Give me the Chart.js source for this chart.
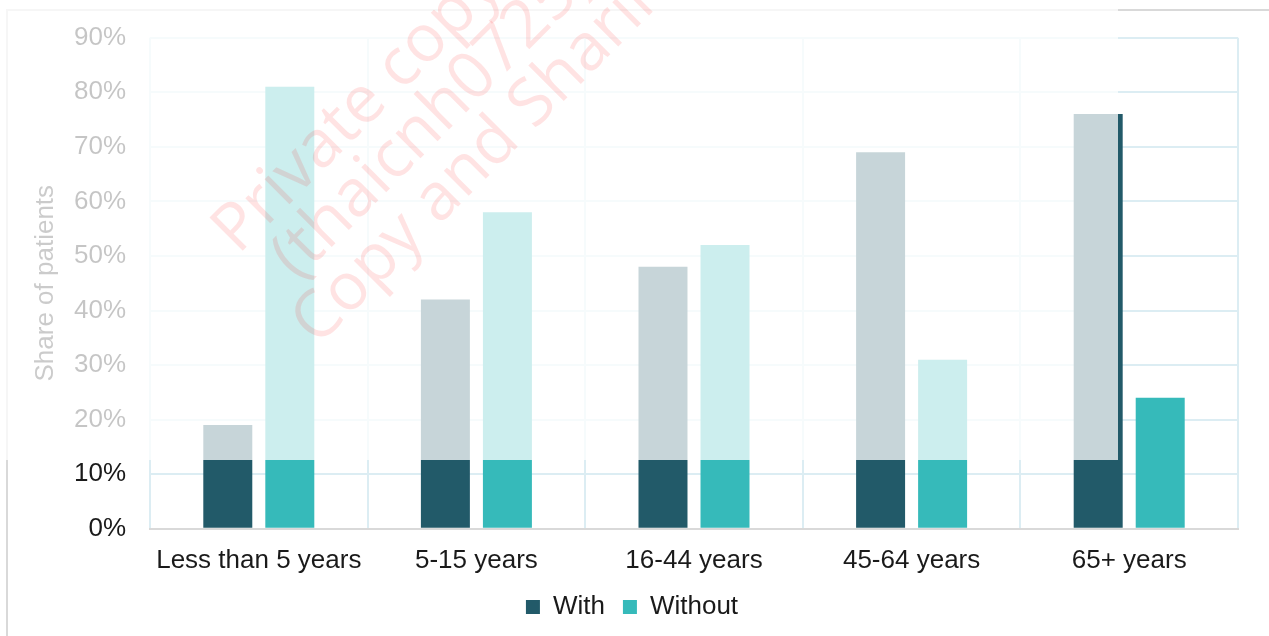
<!DOCTYPE html>
<html>
<head>
<meta charset="utf-8">
<script src="https://cdn.jsdelivr.net/npm/chart.js@4"></script>
<style>
  html, body { margin: 0; padding: 0; background: #fff; }
  #wrap { width: 1269px; height: 636px; }
</style>
</head>
<body>
<div id="wrap"><canvas id="myChart"></canvas></div>
<script>
// data
var ageGroups = ["Less than 5 years", "5-15 years", "16-44 years", "45-64 years", "65+ years"];
var withValues = [19, 42, 48, 69, 76];
var withoutValues = [81, 58, 52, 31, 24];
var yTicks = [0, 10, 20, 30, 40, 50, 60, 70, 80, 90];

var withColor = "#225a69";
var withoutColor = "#36baba";
var gridColor = "#dcedf3";
var font = "'Liberation Sans', Arial";

// card frame, faded top area and watermark seen on the reference
var pagePlugin = {
    id: "page",
    beforeDraw: function (chart) {
        var ctx = chart.ctx;
        ctx.save();
        ctx.strokeStyle = "#d9d9d9";
        ctx.lineWidth = 2;
        ctx.beginPath();
        ctx.moveTo(7, 636);
        ctx.lineTo(7, 10);
        ctx.lineTo(1269, 10);
        ctx.stroke();
        ctx.restore();
    },
    afterDraw: function (chart) {
        var ctx = chart.ctx;
        ctx.save();
        ctx.fillStyle = "rgba(255,255,255,0.75)";
        ctx.fillRect(0, 0, 1118, 460);

        ctx.fillStyle = "rgba(255,0,0,0.11)";
        ctx.font = "66px 'Open Sans'";
        var lines = [
            ["Private copy", 225, 242],
            ["(thaicnh0725)", 284, 268],
            ["Copy and Sharing", 304, 334]
        ];
        lines.forEach(function (l) {
            ctx.save();
            ctx.translate(l[1], l[2]);
            ctx.rotate(-Math.PI / 4);
            ctx.fillText(l[0], 0, 0);
            ctx.restore();
        });
        ctx.restore();
    }
};

new Chart("myChart", {
    type: "bar",
    data: {
        labels: ageGroups,
        datasets: [{
            label: "With",
            data: withValues,
            backgroundColor: withColor,
            categoryPercentage: 0.57,
            barPercentage: 0.79
        }, {
            label: "Without",
            data: withoutValues,
            backgroundColor: withoutColor,
            categoryPercentage: 0.57,
            barPercentage: 0.79
        }]
    },
    options: {
        responsive: true,
        maintainAspectRatio: false,
        animation: false,
        layout: {
            padding: { left: 26, right: 31, top: 23, bottom: 6 }
        },
        plugins: {
            legend: {
                position: "bottom",
                labels: {
                    boxWidth: 14,
                    boxHeight: 14,
                    padding: 18,
                    color: "#1a1a1a",
                    font: { family: font, size: 26 }
                }
            },
            tooltip: { enabled: false }
        },
        scales: {
            x: {
                afterFit: function (axis) { axis.height = axis.height - 16; },
                grid: { color: gridColor, lineWidth: 2, drawTicks: false },
                border: { color: "#d9d9d9", width: 2 },
                ticks: {
                    color: "#1a1a1a",
                    padding: 16,
                    font: { family: font, size: 26 }
                }
            },
            y: {
                min: 0,
                max: 90,
                afterFit: function (axis) { axis.width = 124; },
                afterBuildTicks: function (axis) {
                    axis.ticks = yTicks.map(function (v) { return { value: v }; });
                },
                grid: {
                    color: function (c) { return c.tick && c.tick.value === 0 ? "rgba(0,0,0,0)" : gridColor; },
                    lineWidth: 2,
                    drawTicks: false
                },
                border: { display: false },
                title: {
                    display: true,
                    text: "Share of patients",
                    color: "#333333",
                    font: { family: font, size: 26 }
                },
                ticks: {
                    color: "#1a1a1a",
                    padding: 24,
                    callback: function (v) { return v + "%"; },
                    font: { family: font, size: 26, lineHeight: 1.05 }
                }
            }
        }
    },
    plugins: [pagePlugin]
});
</script>
</body>
</html>
